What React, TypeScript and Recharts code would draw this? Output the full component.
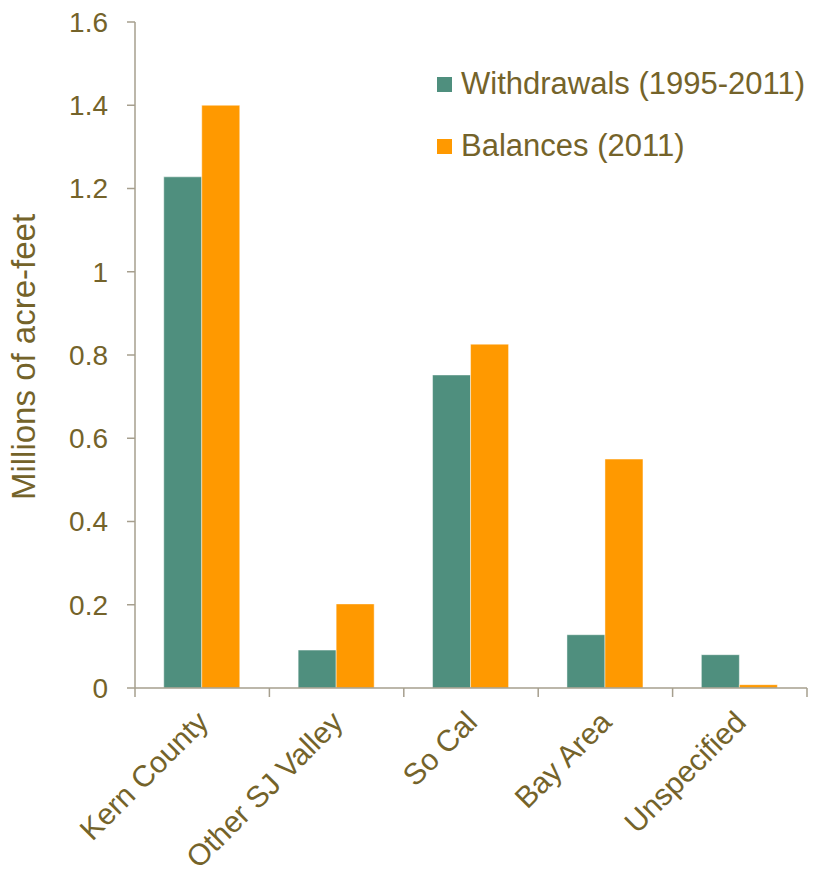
import React from 'react';
import { BarChart, Bar, XAxis, YAxis } from 'recharts';

// Regions and the two series (millions of acre-feet)
const REGIONS = ['Kern County', 'Other SJ Valley', 'So Cal', 'Bay Area', 'Unspecified'];
const WITHDRAWALS = [1.228, 0.091, 0.752, 0.128, 0.08];
const BALANCES = [1.4, 0.202, 0.826, 0.55, 0.008];
const Y_TICKS = [0, 0.2, 0.4, 0.6, 0.8, 1, 1.2, 1.4, 1.6];

const SERIES = [
  { key: 'withdrawals', name: 'Withdrawals (1995-2011)', color: '#4f8f7e' },
  { key: 'balances', name: 'Balances (2011)', color: '#ff9900' },
];

const FONT = '"Liberation Sans", Arial, sans-serif';
const TEXT = '#74632a';
const AXIS = '#a69f8e';

const data = REGIONS.map((region, i) => ({
  region,
  withdrawals: WITHDRAWALS[i],
  balances: BALANCES[i],
}));

// Category label rotated 45°, with tick marks on the band edges
const RegionTick = (props: any) => {
  const { x, y, index, payload } = props;
  const half = payload && payload.offset ? payload.offset : 67.2;
  return (
    <g>
      <line x1={x - half} x2={x - half} y1={y} y2={y + 9} stroke={AXIS} strokeWidth={1.5} />
      {index === REGIONS.length - 1 && (
        <line x1={x + half} x2={x + half} y1={y} y2={y + 9} stroke={AXIS} strokeWidth={1.5} />
      )}
      <text
        transform={`translate(${x + 8}, ${y + 36}) rotate(-45)`}
        textAnchor="end"
        fill={TEXT}
        fontSize={30}
        fontFamily={FONT}
      >
        {payload.value}
      </text>
    </g>
  );
};

// Legend drawn as an overlay so it doesn't take space from the plot
const LegendBox = () => (
  <div
    style={{
      position: 'absolute',
      left: 437,
      top: 69,
      fontFamily: FONT,
      fontSize: 31,
      color: TEXT,
      lineHeight: '30px',
    }}
  >
    {SERIES.map((s, i) => (
      <div
        key={s.key}
        style={{ display: 'flex', alignItems: 'center', height: 30, marginTop: i === 0 ? 0 : 32, whiteSpace: 'nowrap' }}
      >
        <span style={{ width: 15, height: 15, background: s.color, marginRight: 9, display: 'inline-block' }} />
        <span>{s.name}</span>
      </div>
    ))}
  </div>
);

export default function App() {
  return (
    <div style={{ position: 'absolute', left: 0, top: 0, width: 819, height: 881, background: '#fff' }}>
      <BarChart
        width={819}
        height={881}
        data={data}
        margin={{ top: 22, right: 12, bottom: 0, left: 0 }}
        barCategoryGap="21.4%"
        barGap={0}
      >
        <XAxis
          dataKey="region"
          height={193}
          interval={0}
          tickLine={false}
          tickSize={0}
          tickMargin={0}
          axisLine={{ stroke: AXIS, strokeWidth: 1.5 }}
          tick={<RegionTick />}
        />
        <YAxis
          width={135}
          domain={[0, 1.6]}
          ticks={Y_TICKS}
          interval={0}
          tickSize={8}
          tickMargin={19}
          tickFormatter={(v: number) => String(v)}
          axisLine={{ stroke: AXIS, strokeWidth: 1.5 }}
          tickLine={{ stroke: AXIS, strokeWidth: 1.5 }}
          tick={{ fill: TEXT, fontSize: 28, fontFamily: FONT }}
          label={{
            content: () => (
              <text
                transform="translate(35, 357) rotate(-90)"
                textAnchor="middle"
                fill={TEXT}
                fontSize={33}
                fontFamily={FONT}
              >
                Millions of acre-feet
              </text>
            ),
          }}
        />
        {SERIES.map((s) => (
          <Bar
            key={s.key}
            dataKey={s.key}
            name={s.name}
            fill={s.color}
            stroke="rgba(255,255,255,0.45)"
            strokeWidth={1}
            isAnimationActive={false}
          />
        ))}
      </BarChart>
      <LegendBox />
    </div>
  );
}
